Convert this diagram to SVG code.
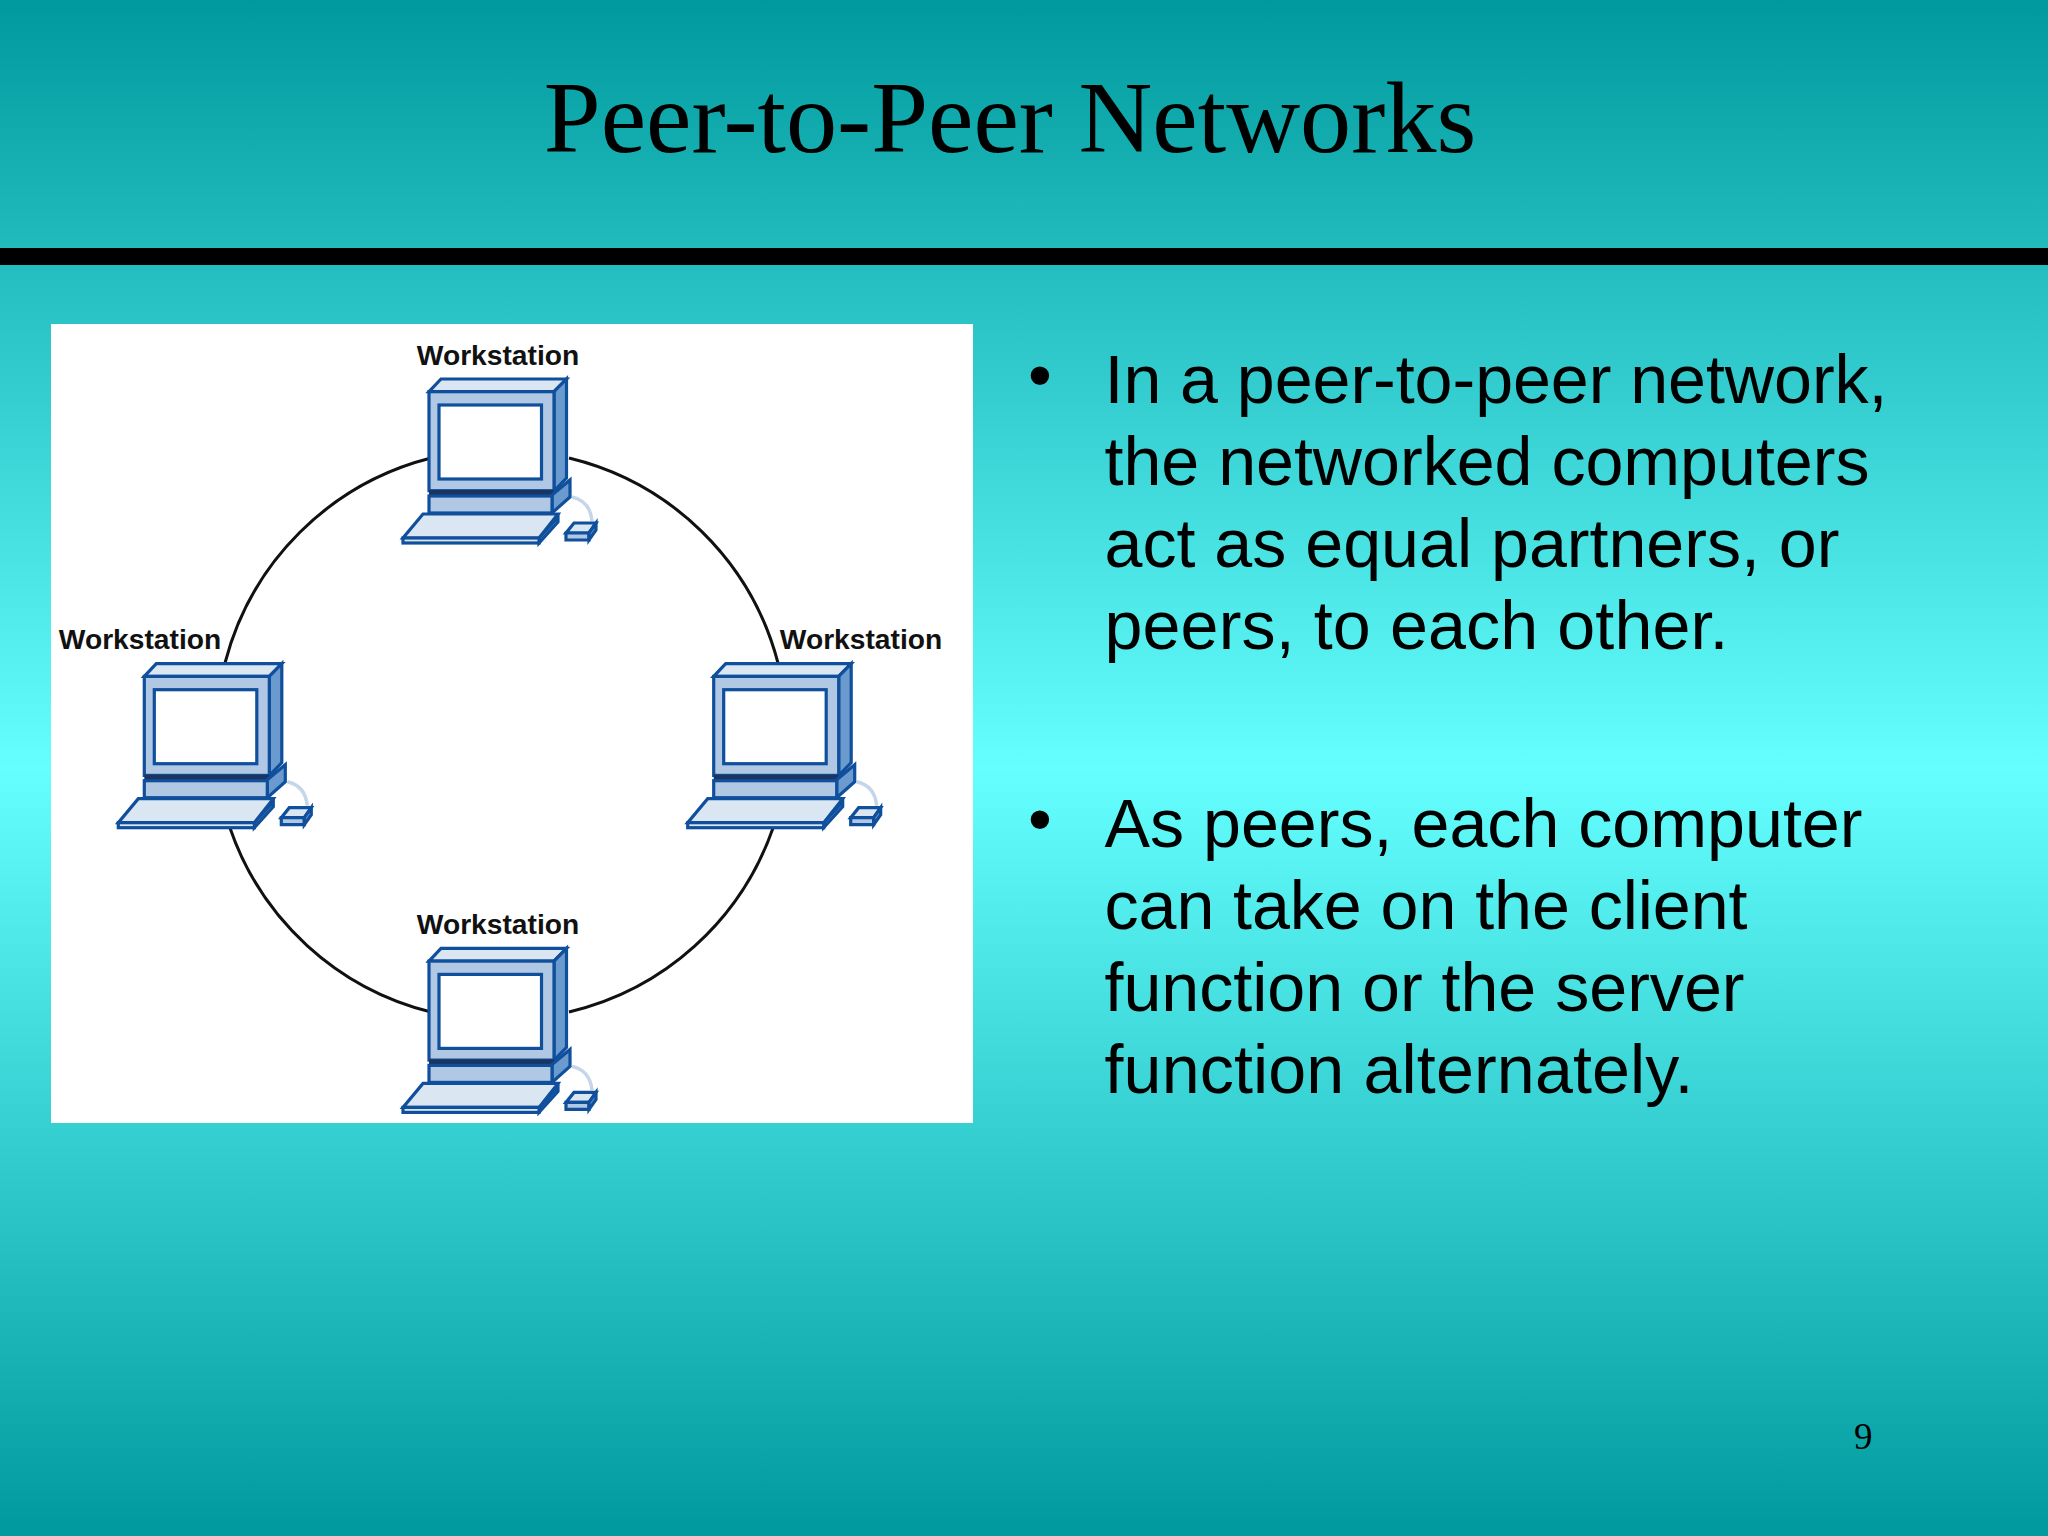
<svg xmlns="http://www.w3.org/2000/svg" width="2048" height="1536" viewBox="0 0 2048 1536">
<style>
.s{stroke:#0f4f9c;stroke-width:3.2;stroke-linejoin:miter}
.l{fill:#dbe6f3}.m{fill:#b0c8e4}.d{fill:#6b9ace}
.lbl{font:bold 28.200px "Liberation Sans",Arial,sans-serif;fill:#111;text-anchor:middle}
.body{font:68.200px "Liberation Sans",Arial,sans-serif;fill:#000}
.arc{fill:none;stroke:#111;stroke-width:3}
</style>
<defs>
<linearGradient id="bg" x1="0" y1="0" x2="0" y2="1"><stop offset="0" stop-color="#009a9e"/><stop offset="0.5" stop-color="#66ffff"/><stop offset="1" stop-color="#009a9e"/></linearGradient>
<g id="pc">
<path d="M572 497Q590 501 592 521" fill="none" stroke="#c5d6ea" stroke-width="3.500"/>
<path class="s l" d="M429 391.700L441 379H566.500L554 391.700Z"/>
<path class="s d" d="M554 391.700L566.500 379V478L554 491Z"/>
<rect class="s m" x="429" y="391.700" width="125" height="99"/>
<rect class="s" fill="#fff" x="439" y="405" width="102.500" height="74"/>
<path fill="#1c3560" d="M429 490h125v6h-125z"/>
<path class="s d" d="M552 495L570 480V497L552 513Z"/>
<rect class="s m" x="429" y="496" width="123" height="17"/>
<path class="s d" d="M539 538L558 517V522L539 543Z"/>
<path class="s l" d="M423 514H558L539 538H403Z"/>
<rect class="s l" x="403" y="538" width="136" height="5"/>
<path class="s l" d="M574 523H596L589 533H566Z"/>
<path class="s m" d="M566 533H589V540H566Z"/>
<path class="s d" d="M589 533L596 523V530L589 540Z"/>
</g>
</defs>
<rect id="background" width="2048" height="1536" fill="url(#bg)"/>
<rect id="rule" y="248" width="2048" height="17" fill="#000"/>
<text id="title" x="1010" y="152" font-family="Liberation Serif, Times New Roman, serif" font-size="102.300" text-anchor="middle">Peer-to-Peer Networks</text>
<rect id="panel" x="51" y="324" width="922" height="799" fill="#fff"/>
<g id="connectors">
<path class="arc" d="M431 458A285 285 0 0 0 225 663"/>
<path class="arc" d="M569 458A285 285 0 0 1 778 663"/>
<path class="arc" d="M773 828A285 285 0 0 1 569 1012"/>
<path class="arc" d="M230 828A285 285 0 0 0 431 1012"/>
</g>
<g id="workstation-top"><use href="#pc"/><text class="lbl" x="498" y="365">Workstation</text></g>
<g id="workstation-left"><use href="#pc" x="-284.700" y="284.700"/><text class="lbl" x="140" y="649">Workstation</text></g>
<g id="workstation-right"><use href="#pc" x="284.700" y="284.700"/><text class="lbl" x="861" y="649">Workstation</text></g>
<g id="workstation-bottom"><use href="#pc" y="569.400"/><text class="lbl" x="498" y="934">Workstation</text></g>
<g id="bullets">
<text x="1028" y="398" font-family="Liberation Sans, Arial, sans-serif" font-size="68">•</text>
<text x="1028" y="842" font-family="Liberation Sans, Arial, sans-serif" font-size="68">•</text>
<text class="body" x="1104.500" y="402.500" textLength="783">In a peer-to-peer network,</text>
<text class="body" x="1104.500" y="484.500" textLength="765">the networked computers</text>
<text class="body" x="1104.500" y="566.500" textLength="735">act as equal partners, or</text>
<text class="body" x="1104.500" y="648.500" textLength="624">peers, to each other.</text>
<text class="body" x="1104.500" y="846.500" textLength="758">As peers, each computer</text>
<text class="body" x="1104.500" y="928.500" textLength="643">can take on the client</text>
<text class="body" x="1104.500" y="1010.500" textLength="640">function or the server</text>
<text class="body" x="1104.500" y="1092.500" textLength="589">function alternately.</text>
</g>
<text id="page" x="1854" y="1449" font-family="Liberation Serif, Times New Roman, serif" font-size="37">9</text>
</svg>
